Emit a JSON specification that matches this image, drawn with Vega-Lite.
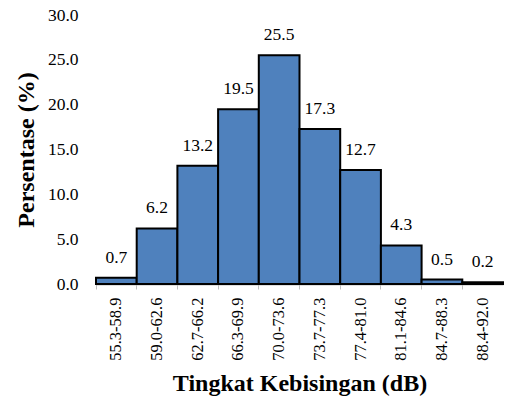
{
  "$schema": "https://vega.github.io/schema/vega-lite/v6.json",
  "width": 407,
  "height": 269,
  "autosize": {"type": "none"},
  "padding": {"left": 96, "top": 15, "right": 19, "bottom": 123},
  "background": "white",
  "config": {"view": {"stroke": null}, "font": "Liberation Serif"},
  "data": {
    "values": [
      {"range": "55.3-58.9", "pct": 0.7},
      {"range": "59.0-62.6", "pct": 6.2},
      {"range": "62.7-66.2", "pct": 13.2},
      {"range": "66.3-69.9", "pct": 19.5},
      {"range": "70.0-73.6", "pct": 25.5},
      {"range": "73.7-77.3", "pct": 17.3},
      {"range": "77.4-81.0", "pct": 12.7},
      {"range": "81.1-84.6", "pct": 4.3},
      {"range": "84.7-88.3", "pct": 0.5},
      {"range": "88.4-92.0", "pct": 0.2}
    ]
  },
  "encoding": {
    "x": {
      "field": "range",
      "type": "nominal",
      "sort": null,
      "scale": {"paddingInner": 0, "paddingOuter": 0},
      "axis": {
        "title": "Tingkat Kebisingan (dB)",
        "titleFont": "Liberation Serif",
        "titleFontSize": 24,
        "titleFontWeight": "bold",
        "titleColor": "black",
        "titlePadding": 11,
        "labelAngle": -90,
        "labelFont": "Liberation Serif",
        "labelFontSize": 16.5,
        "labelColor": "black",
        "labelPadding": 8,
        "bandPosition": 0,
        "domainColor": "#BFBFBF",
        "domainWidth": 2,
        "tickColor": "#BFBFBF",
        "tickSize": 5
      }
    },
    "y": {
      "field": "pct",
      "type": "quantitative",
      "scale": {"domain": [0, 30]},
      "axis": {
        "title": "Persentase (%)",
        "titleFont": "Liberation Serif",
        "titleFontSize": 24,
        "titleFontWeight": "bold",
        "titleColor": "black",
        "titlePadding": 9,
        "values": [0, 5, 10, 15, 20, 25, 30],
        "format": ".1f",
        "labelFont": "Liberation Serif",
        "labelFontSize": 17.5,
        "labelColor": "black",
        "labelPadding": 18,
        "ticks": false,
        "domain": false,
        "grid": false
      }
    }
  },
  "layer": [
    {
      "mark": {"type": "bar", "color": "#4F81BD", "stroke": "black", "strokeWidth": 2}
    },
    {
      "mark": {"type": "text", "baseline": "alphabetic", "dy": -15, "fontSize": 17.5, "font": "Liberation Serif", "color": "black"},
      "encoding": {"text": {"field": "pct", "type": "quantitative", "format": ".1f"}}
    }
  ]
}
